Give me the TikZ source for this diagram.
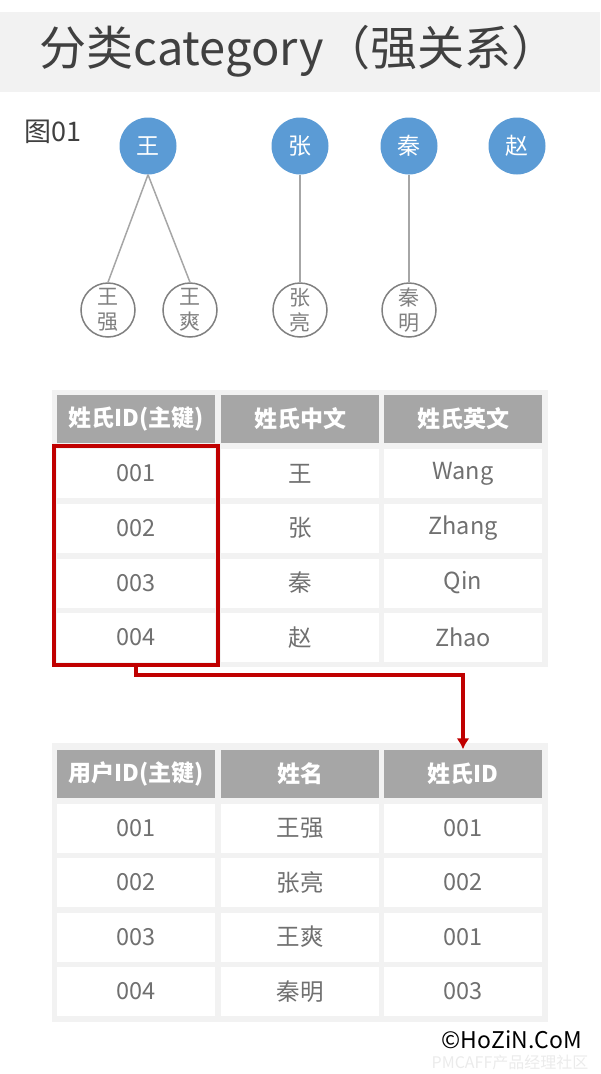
\documentclass[tikz,border=0pt]{standalone}
\usepackage{fontspec}
\setmainfont{Noto Sans CJK SC}
\usepackage{tikz}
\usetikzlibrary{arrows.meta,shapes,positioning,calc,fit}

\definecolor{bandgray}{HTML}{F2F2F2}
\definecolor{headgray}{HTML}{A6A6A6}
\definecolor{cellgray}{HTML}{707070}
\definecolor{titlegray}{HTML}{404040}
\definecolor{surblue}{HTML}{5B9BD5}
\definecolor{ringgray}{HTML}{808080}
\definecolor{pkred}{HTML}{C00000}

\tikzset{
	surname/.style={circle,fill=surblue,text=white,minimum size=57pt,inner sep=0pt,font=\fontsize{23}{23}\selectfont},
	member/.style ={circle,draw=ringgray,line width=1.5pt,fill=white,text=ringgray,minimum size=54pt,inner sep=0pt,align=center,font=\fontsize{21}{25}\selectfont},
	link/.style   ={draw=headgray,line width=1.5pt},
	hd/.style     ={fill=headgray,text=white,minimum width=158pt,minimum height=48pt,inner sep=0pt,font=\fontsize{23}{23}\selectfont\bfseries},
	cell/.style   ={fill=white,text=cellgray,minimum width=158pt,minimum height=49pt,inner sep=0pt,font=\fontsize{23.5}{23.5}\selectfont},
	pkbox/.style  ={draw=pkred,line width=4pt,inner sep=3pt},
	fk/.style     ={draw=pkred,line width=4pt,-{Latex[length=11pt,width=13pt]}}
}

\begin{document}
\begin{tikzpicture}[x=1pt,y=-1pt]
	\useasboundingbox (0,0) rectangle (600,1074);

	% title
	\fill[bandgray] (0,12) rectangle (600,92);
	\node[anchor=west,text=titlegray,font=\fontsize{47}{47}\selectfont] (title) at (36,51) {分类category（强关系）};
	\node[anchor=west,text=titlegray,font=\fontsize{27}{27}\selectfont] (fig) at (21,132) {图01};

	% surnames and members
	\node[surname] (wang)  at (148,146) {王};
	\node[surname] (zhang) at (300,146) {张};
	\node[surname] (qin)   at (409,146) {秦};
	\node[surname] (zhao)  at (517,146) {赵};

	\node[member] (wq) at (108,310) {王\\强};
	\node[member] (ws) at (190,310) {王\\爽};
	\node[member] (zl) at (300,310) {张\\亮};
	\node[member] (qm) at (409,310) {秦\\明};

	\draw[link] (wang.south)  -- (wq.north);
	\draw[link] (wang.south)  -- (ws.north);
	\draw[link] (zhang.south) -- (zl.north);
	\draw[link] (qin.south)   -- (qm.north);

	% surname table
	\fill[bandgray] (52,390) rectangle (548,667);
	\node[hd  ] (s0a) at (136,419  ) {姓氏ID(主键)};
	\node[hd  ] (s0b) at (300,419  ) {姓氏中文};
	\node[hd  ] (s0c) at (463,419  ) {姓氏英文};
	\node[cell] (s1a) at (136,473.5) {001};
	\node[cell] (s1b) at (300,473.5) {王};
	\node[cell] (s1c) at (463,473.5) {Wang};
	\node[cell] (s2a) at (136,528  ) {002};
	\node[cell] (s2b) at (300,528  ) {张};
	\node[cell] (s2c) at (463,528  ) {Zhang};
	\node[cell] (s3a) at (136,583  ) {003};
	\node[cell] (s3b) at (300,583  ) {秦};
	\node[cell] (s3c) at (463,583  ) {Qin};
	\node[cell] (s4a) at (136,637.5) {004};
	\node[cell] (s4b) at (300,637.5) {赵};
	\node[cell] (s4c) at (463,637.5) {Zhao};

	% user table
	\fill[bandgray] (52,743) rectangle (548,1022);
	\node[hd  ] (u0a) at (136,773.5) {用户ID(主键)};
	\node[hd  ] (u0b) at (300,773.5) {姓名};
	\node[hd  ] (u0c) at (463,773.5) {姓氏ID};
	\node[cell] (u1a) at (136,828  ) {001};
	\node[cell] (u1b) at (300,828  ) {王强};
	\node[cell] (u1c) at (463,828  ) {001};
	\node[cell] (u2a) at (136,882.5) {002};
	\node[cell] (u2b) at (300,882.5) {张亮};
	\node[cell] (u2c) at (463,882.5) {002};
	\node[cell] (u3a) at (136,937  ) {003};
	\node[cell] (u3b) at (300,937  ) {王爽};
	\node[cell] (u3c) at (463,937  ) {001};
	\node[cell] (u4a) at (136,991.5) {004};
	\node[cell] (u4b) at (300,991.5) {秦明};
	\node[cell] (u4c) at (463,991.5) {003};

	% key and its reference
	\node[pkbox,fit=(s1a)(s4a)] (pk) {};
	\draw[fk] (pk.south) -- ++(0,8) -| (u0c.north);

	% footer
	\node[text=black!8,font=\fontsize{16}{16}\selectfont] (wm) at (510,1062) {PMCAFF产品经理社区};
	\node[text=black,font=\fontsize{23}{23}\selectfont] (credit) at (512,1040) {©HoZiN.CoM};
\end{tikzpicture}
\end{document}
